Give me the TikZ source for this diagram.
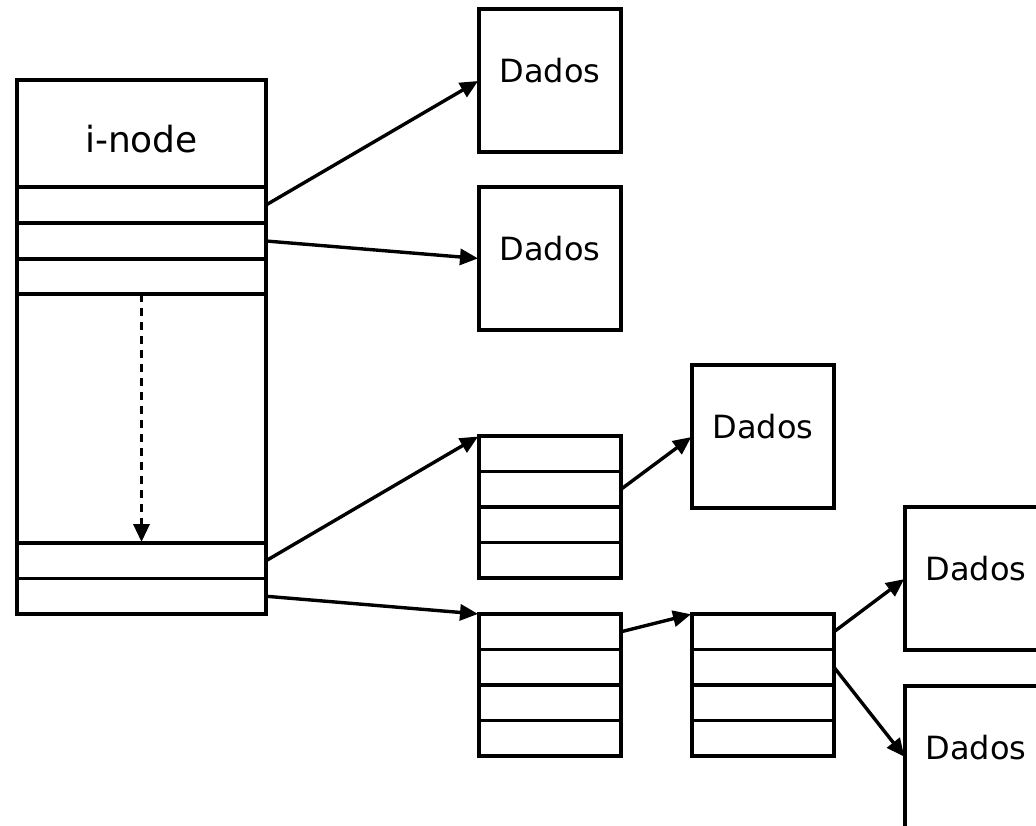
\documentclass[tikz,border=0pt]{standalone}
\usepackage{fontspec}
\setmainfont{DejaVu Sans}
\usetikzlibrary{arrows.meta,positioning}

\begin{document}
\begin{tikzpicture}[
  x=1pt, y=-1pt,
  line width=3.4pt,
  % Block styles
  cell/.style={
    draw, outer sep=0pt, inner sep=0pt,
    minimum width=142pt, minimum height=35.5pt
  },
  icell/.style={cell, minimum width=249pt},
  dados/.style={
    draw, outer sep=0pt, inner sep=0pt,
    minimum width=142pt, minimum height=143pt,
    font=\fontsize{32pt}{38pt}\selectfont,
    text height=24pt, text depth=21pt
  },
  ptr/.style={-{Triangle[length=18pt,width=16pt]}, shorten >=1pt}
]

\useasboundingbox (0,0) rectangle (1036,825);
\clip (0,0) rectangle (1036,825);

% ── i-node ───────────────────────────────────────────────────────────────────
\node[icell, anchor=north west, minimum height=107pt,
      font=\fontsize{36pt}{43pt}\selectfont,
      text height=37pt, text depth=0pt] (ihdr) at (17,80) {i-node};
\node[icell, below=0pt of ihdr, minimum height=36pt] (ip1) {};
\node[icell, below=0pt of ip1, minimum height=36pt]  (ip2) {};
\node[icell, below=0pt of ip2, minimum height=35pt]  (ip3) {};
\node[icell, below=0pt of ip3, minimum height=249pt] (igap) {};
\node[icell, below=0pt of igap] (ip4) {};
\node[icell, below=0pt of ip4]  (ip5) {};

% ── Direct data blocks ───────────────────────────────────────────────────────
\node[dados, anchor=north west] (dat1) at (479,9) {Dados};
\node[dados, below=35pt of dat1] (dat2) {Dados};

% ── Single indirect block ────────────────────────────────────────────────────
\node[cell, anchor=north west] (blkA1) at (479,436) {};
\node[cell, below=0pt of blkA1] (blkA2) {};
\node[cell, below=0pt of blkA2] (blkA3) {};
\node[cell, below=0pt of blkA3] (blkA4) {};

\node[dados, anchor=north west] (dat3) at (692,365) {Dados};

% ── Double indirect blocks ───────────────────────────────────────────────────
\node[cell, below=36pt of blkA4] (blkB1) {};
\node[cell, below=0pt of blkB1]  (blkB2) {};
\node[cell, below=0pt of blkB2]  (blkB3) {};
\node[cell, below=0pt of blkB3]  (blkB4) {};

\node[cell, right=71pt of blkB1] (blkC1) {};
\node[cell, below=0pt of blkC1]  (blkC2) {};
\node[cell, below=0pt of blkC2]  (blkC3) {};
\node[cell, below=0pt of blkC3]  (blkC4) {};

\node[dados, anchor=north west] (dat4) at (905,507) {Dados};
\node[dados, below=36pt of dat4] (dat5) {Dados};

% ── Pointers ─────────────────────────────────────────────────────────────────
\draw[ptr] (ip1.east) -- (dat1.west);
\draw[ptr] (ip2.east) -- (dat2.west);
\draw[ptr, dash pattern=on 8pt off 6pt] (ip3.south) -- (ip4.north);
\draw[ptr] (ip4.east) -- (blkA1.north west);
\draw[ptr] (ip5.east) -- (blkB1.north west);

\draw[ptr] (blkA2.east) -- (dat3.west);
\draw[ptr] (blkB1.east) -- (blkC1.north west);
\draw[ptr] (blkC1.east) -- (dat4.west);
\draw[ptr] (blkC2.east) -- (dat5.west);

\end{tikzpicture}
\end{document}
